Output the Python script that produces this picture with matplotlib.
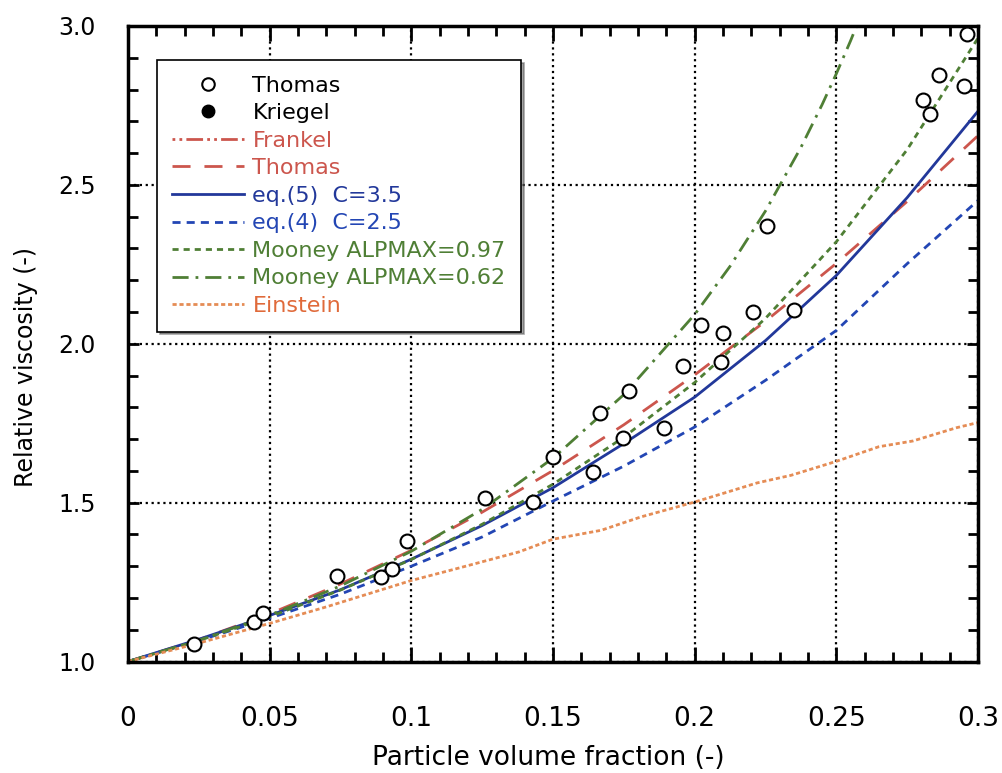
import matplotlib
matplotlib.use('Agg')
import matplotlib.pyplot as plt
from matplotlib.ticker import MultipleLocator, FormatStrFormatter
from matplotlib.lines import Line2D

# Measured data (Thomas)
thomas_x = [0.0233, 0.0445, 0.0475, 0.0739, 0.0893, 0.0931, 0.0986, 0.126, 0.143,
            0.150, 0.164, 0.1666, 0.1746, 0.1767, 0.189, 0.196, 0.2021, 0.2092,
            0.2101, 0.2207, 0.2256, 0.2352, 0.2807, 0.2831, 0.2864, 0.2949, 0.2960]
thomas_y = [1.054, 1.124, 1.152, 1.269, 1.265, 1.291, 1.378, 1.515, 1.502,
            1.645, 1.596, 1.783, 1.704, 1.850, 1.734, 1.930, 2.059, 1.942,
            2.035, 2.101, 2.371, 2.106, 2.767, 2.723, 2.845, 2.811, 2.975]

# Kriegel / Frankel: legend only, nothing visible in the plotted range
kriegel_x, kriegel_y = [], []
frankel_x, frankel_y = [], []

# model curves
phi = [0, 0.025, 0.05, 0.075, 0.1, 0.125, 0.15, 0.175, 0.2, 0.225, 0.25, 0.275, 0.3]
thomas_model = [1.0, 1.069, 1.150, 1.244, 1.350, 1.470, 1.601, 1.745, 1.902, 2.071, 2.253, 2.448, 2.655]
eq5 = [1.0, 1.070, 1.145, 1.226, 1.322, 1.428, 1.547, 1.686, 1.832, 2.010, 2.215, 2.460, 2.732]
eq4 = [1.0, 1.066, 1.136, 1.212, 1.300, 1.392, 1.505, 1.615, 1.738, 1.885, 2.042, 2.252, 2.451]
mooney97 = [1.0, 1.066, 1.141, 1.225, 1.321, 1.432, 1.558, 1.706, 1.878, 2.080, 2.321, 2.611, 2.962]

phi62 = [0, 0.025, 0.05, 0.075, 0.1, 0.125, 0.15, 0.175, 0.2, 0.2125, 0.225, 0.2375, 0.245, 0.25, 0.255, 0.26]
mooney62 = [1.0, 1.067, 1.146, 1.238, 1.347, 1.479, 1.640, 1.840, 2.092, 2.244, 2.418, 2.618, 2.753, 2.850, 2.953, 3.063]

ein_x = [0, 0.025, 0.05, 0.07, 0.1, 0.115, 0.138, 0.15, 0.167, 0.181, 0.2, 0.21,
         0.222, 0.234, 0.25, 0.265, 0.277, 0.2925, 0.3]
ein_y = [1.0, 1.058, 1.120, 1.172, 1.255, 1.290, 1.345, 1.385, 1.413, 1.455, 1.502, 1.529,
         1.562, 1.586, 1.630, 1.676, 1.694, 1.736, 1.752]

red = '#cc564d'
blue1 = '#22389a'
blue2 = '#2346b4'
green = '#4f7f35'
orange = '#e58c55'

fig = plt.figure(figsize=(10.03, 7.73), dpi=100)
ax = fig.add_axes([0.1276, 0.1442, 0.8475, 0.8222])

lw = 2.0
ax.plot(frankel_x, frankel_y, color=red, lw=lw, ls=(0, (1, 1.5, 1, 1.5, 6, 1.5)))
ax.plot(phi, thomas_model, color=red, lw=lw, ls=(0, (6.5, 5)))
ax.plot(phi, eq5, color=blue1, lw=lw, ls='-')
ax.plot(phi, eq4, color=blue2, lw=lw, ls=(0, (2.9, 2.2)))
ax.plot(phi, mooney97, color=green, lw=lw, ls=(0, (2.2, 1.8)))
ax.plot(phi62, mooney62, color=green, lw=lw, ls=(0, (5.8, 2.5, 1, 2.5)))
ax.plot(ein_x, ein_y, color=orange, lw=lw, ls=(0, (1.5, 1)))

ax.plot(thomas_x, thomas_y, 'o', ms=10, mfc='white', mec='black', mew=1.5, zorder=5)
ax.plot(kriegel_x, kriegel_y, 'o', ms=10, mfc='black', mec='black')

ax.set_xlim(0, 0.3)
ax.set_ylim(1.0, 3.0)
ax.xaxis.set_major_locator(MultipleLocator(0.05))
ax.xaxis.set_minor_locator(MultipleLocator(0.01))
ax.yaxis.set_major_locator(MultipleLocator(0.5))
ax.yaxis.set_minor_locator(MultipleLocator(0.1))
ax.xaxis.set_major_formatter(FormatStrFormatter('%g'))
ax.yaxis.set_major_formatter(FormatStrFormatter('%.1f'))

ax.tick_params(which='both', direction='in', top=True, right=True, width=2)
ax.tick_params(axis='x', which='major', length=11, pad=32, labelsize=19)
ax.tick_params(axis='y', which='major', length=8, pad=23, labelsize=17)
ax.tick_params(which='minor', length=7)
for s in ax.spines.values():
    s.set_linewidth(2.5)

ax.grid(True, which='major', color='black', ls=':', lw=1.6)
ax.set_axisbelow(True)

ax.set_xlabel('Particle volume fraction (-)', fontsize=19)
ax.set_ylabel('Relative viscosity (-)', fontsize=17)
ax.xaxis.set_label_coords(0.495, -0.131)
ax.yaxis.set_label_coords(-0.106, 0.463)

# legend
handles = [
    Line2D([], [], ls='none', marker='o', ms=9, mfc='white', mec='black', mew=1.5),
    Line2D([], [], ls='none', marker='o', ms=9, mfc='black', mec='black'),
    Line2D([], [], color=red, lw=lw, ls=(0, (1, 1.5, 1, 1.5, 6, 1.5))),
    Line2D([], [], color=red, lw=lw, ls=(0, (6.5, 5))),
    Line2D([], [], color=blue1, lw=lw),
    Line2D([], [], color=blue2, lw=lw, ls=(0, (2.9, 2.2))),
    Line2D([], [], color=green, lw=lw, ls=(0, (2.2, 1.8))),
    Line2D([], [], color=green, lw=lw, ls=(0, (5.8, 2.5, 1, 2.5))),
    Line2D([], [], color=orange, lw=lw, ls=(0, (1.5, 1))),
]
labels = ['Thomas', 'Kriegel', 'Frankel', 'Thomas', 'eq.(5)  C=3.5', 'eq.(4)  C=2.5',
          'Mooney ALPMAX=0.97', 'Mooney ALPMAX=0.62', 'Einstein']
label_colors = ['black', 'black', red, red, blue1, blue2, green, green, '#e06a3a']

leg = ax.legend(handles, labels, loc='upper left', bbox_to_anchor=(0.034, 0.9465),
                borderaxespad=0, fontsize=16, handlelength=3.2, handletextpad=0.4,
                labelspacing=0.34, fancybox=False, shadow=True, framealpha=1,
                edgecolor='black', borderpad=0.7)
leg.get_frame().set_linewidth(1.2)
for t, c in zip(leg.get_texts(), label_colors):
    t.set_color(c)

plt.savefig('out.png', dpi=100)
